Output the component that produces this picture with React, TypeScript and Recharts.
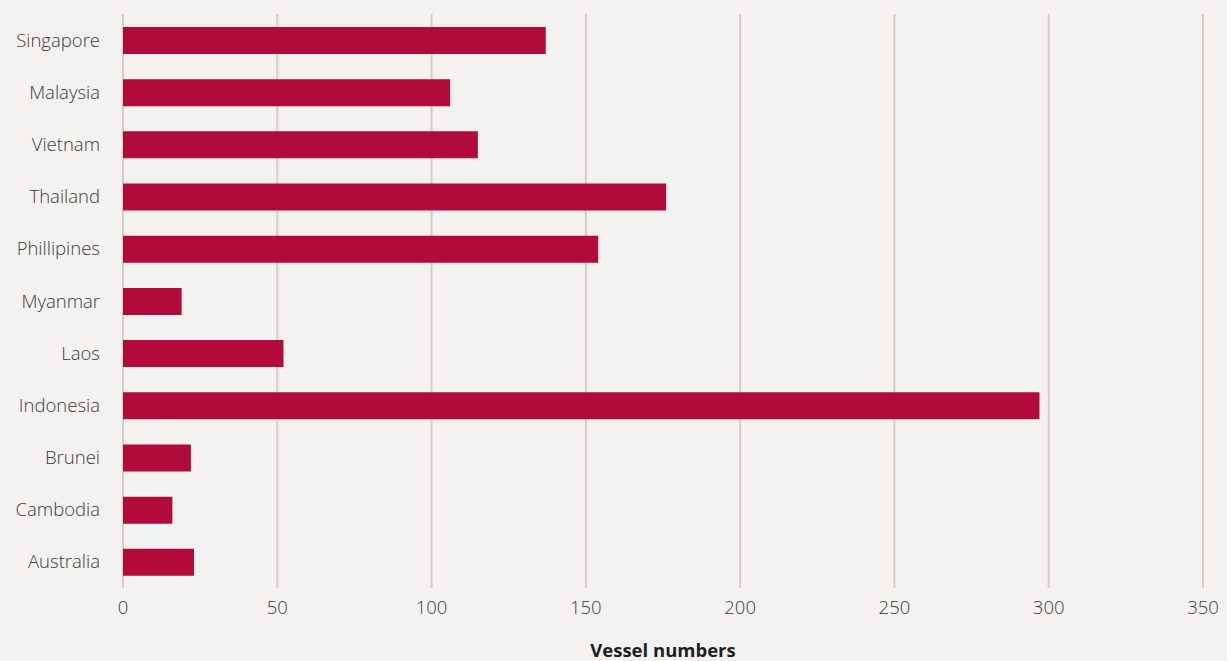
import { BarChart, Bar, XAxis, YAxis, CartesianGrid, Label } from "recharts";

const countries = [
  "Singapore",
  "Malaysia",
  "Vietnam",
  "Thailand",
  "Phillipines",
  "Myanmar",
  "Laos",
  "Indonesia",
  "Brunei",
  "Cambodia",
  "Australia",
];

const vessels = [137, 106, 115, 176, 154, 19, 52, 297, 22, 16, 23];

const xTicks = [0, 50, 100, 150, 200, 250, 300, 350];

const BG = "#f4f2f0";
const BAR = "#b20a3a";
const GRID = "#d5ccc7";
const FONT = "'Open Sans', Lato, sans-serif";

export default function App() {
  const data = countries.map((c, i) => ({ country: c, value: vessels[i] }));

  return (
    <div
      style={{
        position: "fixed",
        top: 0,
        left: 0,
        width: 1227,
        height: 661,
        background: BG,
        fontFamily: FONT,
      }}
    >
      <BarChart
        width={1227}
        height={661}
        data={data}
        layout="vertical"
        margin={{ top: 14, right: 24, bottom: 13, left: 0 }}
      >
        <CartesianGrid horizontal={false} stroke={GRID} strokeWidth={2} />
        <XAxis
          type="number"
          domain={[0, 350]}
          ticks={xTicks}
          height={60}
          axisLine={false}
          tickLine={false}
          tickMargin={7}
          tick={{ fill: "#3a3a3a", fontSize: 18.5, fontWeight: 300, fontFamily: FONT }}
        >
          <Label
            value="Vessel numbers"
            position="insideBottom"
            offset={-9}
            style={{ fill: "#1e1e1e", fontSize: 18.5, fontWeight: 700, fontFamily: FONT }}
          />
        </XAxis>
        <YAxis
          type="category"
          dataKey="country"
          width={123}
          axisLine={false}
          tickLine={false}
          tickMargin={17}
          tick={{ fill: "#3a3a3a", fontSize: 18.5, fontWeight: 300, fontFamily: FONT }}
        />
        <Bar dataKey="value" fill={BAR} barSize={27} isAnimationActive={false} />
      </BarChart>
    </div>
  );
}
